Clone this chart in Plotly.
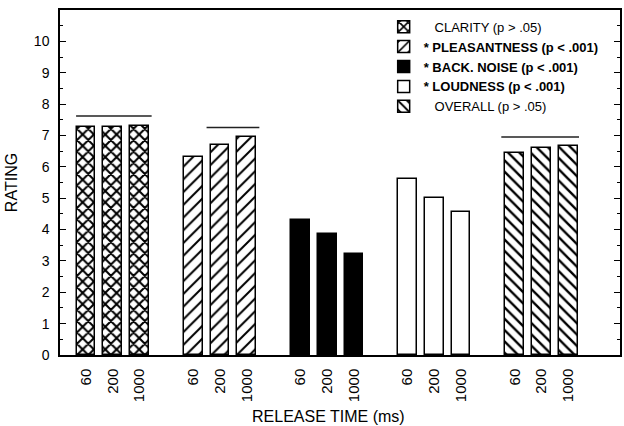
import plotly.graph_objects as go

# Release-time conditions tested for each rating scale
release_times = ["60", "200", "1000"]

# Mean ratings per scale at 60, 200 and 1000 ms release time
clarity = [7.26, 7.26, 7.31]
pleasantness = [6.31, 6.70, 6.96]
back_noise = [4.31, 3.87, 3.22]
loudness = [5.61, 5.01, 4.57]
overall = [6.45, 6.61, 6.66]

series_names = [
    "\u00a0\u00a0\u00a0CLARITY (p &gt; .05)",
    "<b>* PLEASANTNESS (p &lt; .001)</b>",
    "<b>* BACK. NOISE (p &lt; .001)</b>",
    "<b>* LOUDNESS (p &lt; .001)</b>",
    "\u00a0\u00a0\u00a0OVERALL (p &gt; .05)",
]
series_values = [clarity, pleasantness, back_noise, loudness, overall]

# Horizontal lines over the non-significant groups: level, start, end (x units)
bracket_level = [7.62, 7.25, 6.95]
bracket_start = [-0.37, 4.5, 15.5]
bracket_end = [2.45, 6.47, 18.4]

FONT = "Liberation Sans, Arial, Helvetica, sans-serif"
SLOTS_PER_GROUP = 4

styles = [
    dict(color="white", pattern=dict(shape="x", size=8, solidity=0.45, fgcolor="black", bgcolor="white", fgopacity=1)),
    dict(color="white", pattern=dict(shape="/", size=9, solidity=0.22, fgcolor="black", bgcolor="white", fgopacity=1)),
    dict(color="black"),
    dict(color="white"),
    dict(color="white", pattern=dict(shape="\\", size=8, solidity=0.3, fgcolor="black", bgcolor="white", fgopacity=1)),
]

fig = go.Figure()
tickvals, ticktext = [], []
for g, (name, vals, st) in enumerate(zip(series_names, series_values, styles)):
    xs = [SLOTS_PER_GROUP * g + k for k in range(len(release_times))]
    tickvals += xs
    ticktext += release_times
    marker = dict(line=dict(color="black", width=1.5), color=st["color"])
    if "pattern" in st:
        marker["pattern"] = st["pattern"]
    fig.add_trace(go.Bar(x=xs, y=vals, name=name, width=0.7, marker=marker))

for lvl, x0, x1 in zip(bracket_level, bracket_start, bracket_end):
    fig.add_trace(go.Scatter(
        x=[x0, x1], y=[lvl, lvl], mode="lines",
        line=dict(color="#222", width=1.5), showlegend=False, hoverinfo="skip",
    ))

fig.update_layout(
    width=624, height=426,
    margin=dict(l=60, r=2, t=10, b=71),
    paper_bgcolor="white", plot_bgcolor="white",
    font=dict(family=FONT, color="black", size=13),
    showlegend=True,
    legend=dict(
        x=0.578, y=0.995, xanchor="left", yanchor="top",
        font=dict(family=FONT, size=13, color="black"),
        bgcolor="rgba(0,0,0,0)", borderwidth=0, itemwidth=30,
        traceorder="normal",
    ),
    bargap=0,
)

fig.update_xaxes(
    range=[-0.97, 19.93],
    tickmode="array", tickvals=tickvals, ticktext=ticktext,
    tickangle=-90, ticks="", ticklabelstandoff=6,
    tickfont=dict(size=15),
    showline=True, linecolor="black", linewidth=1.5, mirror=True,
    showgrid=False, zeroline=False,
)
fig.update_yaxes(
    range=[0, 11], tickmode="array", tickvals=list(range(0, 11)),
    ticks="inside", ticklen=6, tickwidth=1.2, tickcolor="black",
    minor=dict(dtick=0.5, ticks="inside", ticklen=3, tickcolor="black", tickwidth=1),
    tickfont=dict(size=14), ticklabelstandoff=6,
    showline=True, linecolor="black", linewidth=1.5, mirror="ticks",
    showgrid=False, zeroline=False,
    title=dict(text="RATING", font=dict(size=16), standoff=12),
)

fig.add_annotation(
    text="RELEASE TIME (ms)", xref="paper", yref="paper",
    x=0.48, y=-0.178, xanchor="center", yanchor="middle",
    showarrow=False, font=dict(size=16),
)

fig.write_html("out.html")
